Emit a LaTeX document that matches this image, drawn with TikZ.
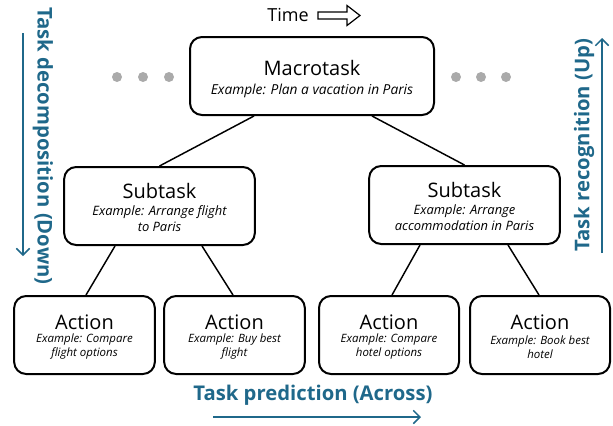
\documentclass[tikz,border=0pt]{standalone}
\usepackage{fontspec}
\setmainfont{Open Sans}
\usetikzlibrary{calc,arrows.meta}
\definecolor{teal1}{RGB}{31,104,138}
\definecolor{dotgray}{RGB}{170,170,170}
\tikzset{
  box/.style={draw=black, line width=1.5pt, rounded corners=9pt, inner sep=0pt},
  title/.style={font=\fontsize{15}{17}\selectfont, inner sep=0pt},
  exm/.style={font=\fontsize{10.3}{12}\selectfont\itshape, align=center, inner sep=0pt},
  ex/.style={font=\fontsize{9.7}{12}\selectfont\itshape, align=center, inner sep=0pt},
  exs/.style={font=\fontsize{8.6}{10.5}\selectfont\itshape, align=center, inner sep=0pt},
  link/.style={line width=1.1pt},
  lbl/.style={font=\fontsize{15.2}{17}\selectfont\bfseries, text=teal1, inner sep=0pt},
  tarrow/.style={draw=teal1, line width=1.1pt, -{Straight Barb[length=5pt,width=10pt]}},
  dot/.style={circle, fill=dotgray, minimum size=7.5pt, inner sep=0pt},
}
\begin{document}
\begin{tikzpicture}[x=0.75pt,y=-0.75pt]
\useasboundingbox (0,0) rectangle (613,425);
% boxes
\node[box, minimum width=183pt, minimum height=58.5pt] (mac) at (312,76) {};
\node[box, minimum width=143pt, minimum height=58.5pt] (s1) at (159.5,206) {};
\node[box, minimum width=143pt, minimum height=58.5pt] (s2) at (464.5,205) {};
\node[box, minimum width=105.5pt, minimum height=58.5pt] (a1) at (84.5,335) {};
\node[box, minimum width=105.5pt, minimum height=58.5pt] (a2) at (234.5,335) {};
\node[box, minimum width=105pt, minimum height=58.5pt] (a3) at (389,335) {};
\node[box, minimum width=105pt, minimum height=58.5pt] (a4) at (540,335) {};
% texts
\node[title] (macT) at (312,68) {Macrotask};
\node[exm] (macE) at (312,91) {Example: Plan a vacation in Paris};
\node[title] (s1T) at (159.5,191) {Subtask};
\node[ex] (s1E) at (159.5,219) {Example: Arrange flight\\to Paris};
\node[title] (s2T) at (464.5,190) {Subtask};
\node[ex] (s2E) at (464.5,218) {Example: Arrange\\accommodation in Paris};
\node[title] (a1T) at (84.5,322) {Action};
\node[exs] (a1E) at (84.5,347) {Example: Compare\\flight options};
\node[title] (a2T) at (234.5,322) {Action};
\node[exs] (a2E) at (234.5,347) {Example: Buy best\\flight};
\node[title] (a3T) at (389,322) {Action};
\node[exs] (a3E) at (389,347) {Example: Compare\\hotel options};
\node[title] (a4T) at (540,322) {Action};
\node[exs] (a4E) at (540,347) {Example: Book best\\hotel};
% links
\draw[link] ($(mac.south)+(-58,0)$) -- (s1.north);
\draw[link] ($(mac.south)+(60,0)$) -- (s2.north);
\draw[link] ($(s1.south)+(-44.5,0)$) -- ($(a1.north)+(1.5,0)$);
\draw[link] ($(s1.south)+(42.5,0)$) -- ($(a2.north)+(-1.5,0)$);
\draw[link] ($(s2.south)+(-44.5,0)$) -- ($(a3.north)+(3,0)$);
\draw[link] ($(s2.south)+(43.5,0)$) -- ($(a4.north)+(-1,0)$);
% dots
\node[dot] (d1) at (117,77) {};
\node[dot] (d2) at (143,77) {};
\node[dot] (d3) at (169,77) {};
\node[dot] (d4) at (456,77) {};
\node[dot] (d5) at (481,77) {};
\node[dot] (d6) at (506,77) {};
% time
\node[font=\fontsize{13.5}{15}\selectfont, inner sep=0pt, anchor=east] (time) at (309,15) {Time};
\coordinate (ta) at (318,15.5);
\draw[line width=0.9pt, line join=miter] ($(ta)+(0,-3.5)$) -- ++(29,0) -- ++(0,-6.5) -- ($(ta)+(42,0)$) -- ($(ta)+(29,10)$) -- ++(0,-6.5) -- ++(-29,0) -- cycle;
% side labels
\node[lbl, rotate=-90] (down) at (43,146) {Task decomposition (Down)};
\coordinate (dA) at (23,33);
\coordinate (dB) at (23,256);
\draw[tarrow] (dA) -- (dB);
\node[lbl, rotate=90] (up) at (584,145) {Task recognition (Up)};
\coordinate (uA) at (602,253);
\coordinate (uB) at (602,38);
\draw[tarrow] (uA) -- (uB);
\node[lbl] (across) at (313,395) {Task prediction (Across)};
\coordinate (cA) at (213,417);
\coordinate (cB) at (421,417);
\draw[tarrow] (cA) -- (cB);
\end{tikzpicture}
\end{document}
